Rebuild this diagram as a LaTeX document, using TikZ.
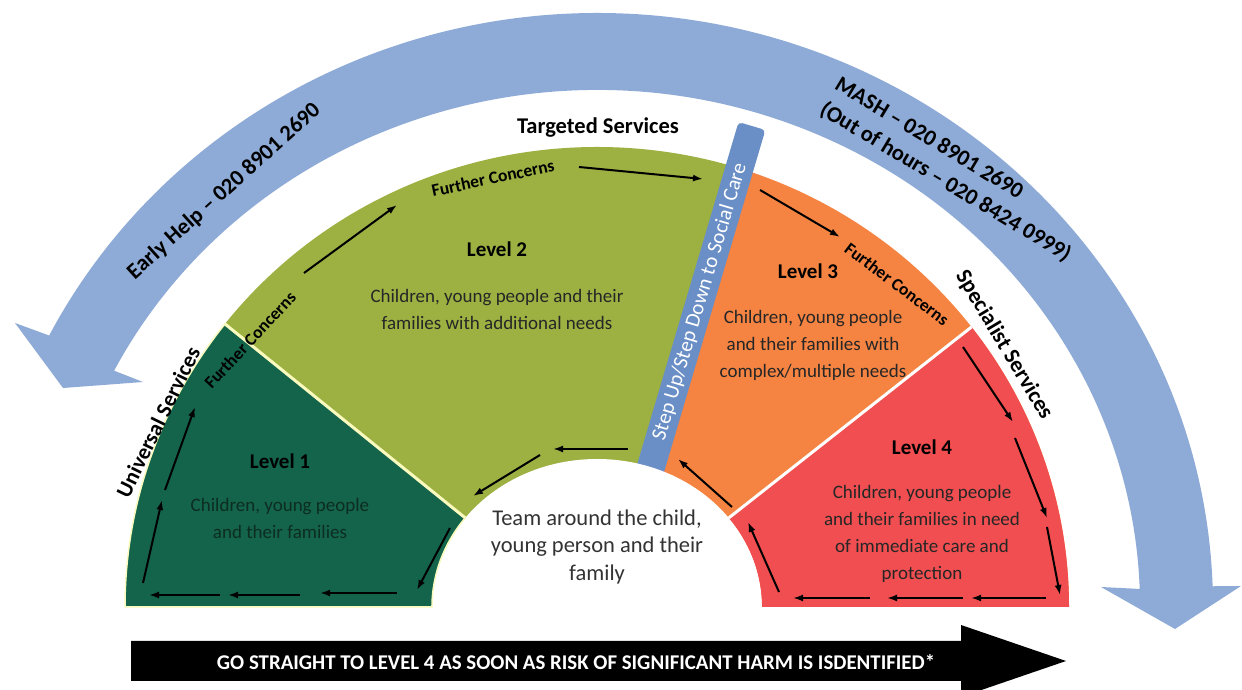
\documentclass[tikz,border=0pt]{standalone}
\usepackage{fontspec}
\usepackage{graphicx}
\setmainfont{Carlito}
\usetikzlibrary{arrows.meta}
\definecolor{bandblue}{RGB}{142,170,214}
\definecolor{barblue}{RGB}{106,142,198}
\definecolor{lgreen}{RGB}{20,100,75}
\definecolor{lolive}{RGB}{157,176,66}
\definecolor{lorange}{RGB}{245,132,66}
\definecolor{lred}{RGB}{240,78,80}
\definecolor{pale}{RGB}{250,250,190}
\definecolor{gtext}{RGB}{12,45,32}
\begin{document}
\begin{tikzpicture}[x=1pt,y=1pt,
  arr/.style={line width=2pt,-{Latex[length=10pt,width=7pt]}},
  lvl/.style={font=\fontsize{21}{25}\selectfont\bfseries},
  body/.style={font=\fontsize{19}{27}\selectfont,align=center,text=black!85},
  team/.style={font=\fontsize{22.5}{27.5}\selectfont,align=center,text=black!80},
  svc/.style={font=\fontsize{22.5}{27}\selectfont\bfseries},
  fc/.style={font=\fontsize{17.5}{21}\selectfont\bfseries},
  band/.style={font=\fontsize{22.5}{29}\selectfont\bfseries}]
\useasboundingbox (0,0) rectangle (1242,690);
\fill[white] (0,0) rectangle (1242,690);

% big curved blue arrow
\fill[bandblue] (597,83) ++(2:616 and 594)
  arc[start angle=2,end angle=152.8,x radius=616,y radius=594]
  -- (15,367) -- (63,302) -- (143,308) -- (114.1,319.3)
  arc[start angle=152.8,end angle=2,x radius=543,y radius=517]
  -- (1101,103) -- (1175,61) -- (1241,104) -- cycle;

% level 2 (olive) and level 3 (orange)
\begin{scope}
  \clip (0,0) -- (584.9,0) -- (789.3,690) -- (0,690) -- cycle;
  \fill[lolive] (125,83) arc[start angle=180,end angle=0,x radius=472,y radius=460] -- cycle;
\end{scope}
\begin{scope}
  \clip (584.9,0) -- (1242,0) -- (1242,690) -- (789.3,690) -- cycle;
  \fill[lorange] (125,83) arc[start angle=180,end angle=0,x radius=472,y radius=460] -- cycle;
\end{scope}

% step up / step down bar
\node[fill=barblue,rounded corners=4pt,minimum width=380pt,minimum height=28pt,
  inner sep=0pt,rotate=73.5] (bar) at (698,381.8) {};

% inner white half ellipse
\fill[white] (432,83) arc[start angle=180,end angle=0,x radius=165,y radius=148] -- cycle;

% level 1
\filldraw[fill=lgreen,draw=pale,line width=1.5pt] (125,83)
  arc[start angle=180,end angle=142,x radius=472,y radius=460]
  -- (465.2,172.1) arc[start angle=143,end angle=180,x radius=165,y radius=148] -- cycle;
\draw[pale,line width=3pt] (225,366) -- (465.2,172.1);

% level 4
\fill[lred] (1069,83) arc[start angle=0,end angle=37.5,x radius=472,y radius=460]
  -- (728.8,172.1) arc[start angle=37,end angle=0,x radius=165,y radius=148] -- cycle;
\draw[white,line width=3pt] (971.5,363) -- (728.8,172.1);

% bar text
\node[font=\fontsize{21}{25}\selectfont,text=white,rotate=73.5] (steptxt) at (700,388)
  {Step Up/Step Down to Social Care};

% texts
\node[lvl] (lvl1) at (280,229) {Level 1};
\node[body,text=gtext] (txt1) at (280,171.5) {Children, young people\\and their families};
\node[lvl] (lvl2) at (497,441) {Level 2};
\node[body] (txt2) at (497,381) {Children, young people and their\\families with additional needs};
\node[lvl] (lvl3) at (808,419) {Level 3};
\node[body] (txt3) at (813,345) {Children, young people\\and their families with\\complex/multiple needs};
\node[lvl] (lvl4) at (922,243) {Level 4};
\node[body] (txt4) at (922,156) {Children, young people\\and their families in need\\of immediate care and\\protection};
\node[team] (team) at (597,143) {Team around the child,\\young person and their\\family};

\node[svc] (targ) at (598,562) {Targeted Services};
\node[svc,font=\fontsize{22}{26}\selectfont\bfseries,rotate=64] (univ) at (158,268) {Universal Services};
\node[svc,rotate=-59] (spec) at (1004,345) {Specialist Services};
\node[fc,rotate=47] (fc1) at (250,350) {Further Concerns};
\node[fc,rotate=12] (fc2) at (493,512) {Further Concerns};
\node[fc,rotate=-37] (fc3) at (897,406) {Further Concerns};

\node[band,rotate=42] (early) at (224,498.5) {Early Help – 020 8901 2690};
\node[band,rotate=-31,align=left] (mash) at (952.7,519.8)
  {MASH – 020 8901 2690\\(Out of hours – 020 8424 0999)};

% arrows: coordinates
\coordinate (a1s) at (220,95);  \coordinate (a1e) at (149,95);
\coordinate (a2s) at (300,95);  \coordinate (a2e) at (228,95);
\coordinate (a3s) at (397,97);  \coordinate (a3e) at (320,97);
\coordinate (a4s) at (450,162); \coordinate (a4e) at (417,100);
\coordinate (a5s) at (143,107); \coordinate (a5e) at (162,190);
\coordinate (a6s) at (165,200); \coordinate (a6e) at (195,283);
\coordinate (b1s) at (304,417); \coordinate (b1e) at (397,485);
\coordinate (b2s) at (579,523); \coordinate (b2e) at (703,511);
\coordinate (b3s) at (628,241); \coordinate (b3e) at (553,241);
\coordinate (b4s) at (540,235); \coordinate (b4e) at (473,194);
\coordinate (c1s) at (760,500); \coordinate (c1e) at (840,453);
\coordinate (c2s) at (732,183); \coordinate (c2e) at (678,231);
\coordinate (d1s) at (963,343); \coordinate (d1e) at (1013,268);
\coordinate (d2s) at (1015,252); \coordinate (d2e) at (1047,172);
\coordinate (d3s) at (1047,163); \coordinate (d3e) at (1060,95);
\coordinate (d4s) at (1046,92);  \coordinate (d4e) at (971,92);
\coordinate (d5s) at (963,92);   \coordinate (d5e) at (887,92);
\coordinate (d6s) at (870,92);   \coordinate (d6e) at (793,92);
\coordinate (d7s) at (779,98);   \coordinate (d7e) at (748,168);
\foreach \a in {a1,a2,a3,a4,a5,a6,b1,b2,b3,b4,c1,c2,d1,d2,d3,d4,d5,d6,d7}
  \draw[arr] (\a s) -- (\a e);

% bottom black arrow
\fill[black] (131,9) -- (961,9) -- (961,-7) -- (1066,29) -- (961,65) -- (961,49) -- (131,49) -- cycle;
\node[text=white,inner sep=0pt] (harm) at (576,28)
  {\resizebox{718pt}{15pt}{\bfseries GO STRAIGHT TO LEVEL 4 AS SOON AS RISK OF SIGNIFICANT HARM IS ISDENTIFIED*}};
\end{tikzpicture}
\end{document}
